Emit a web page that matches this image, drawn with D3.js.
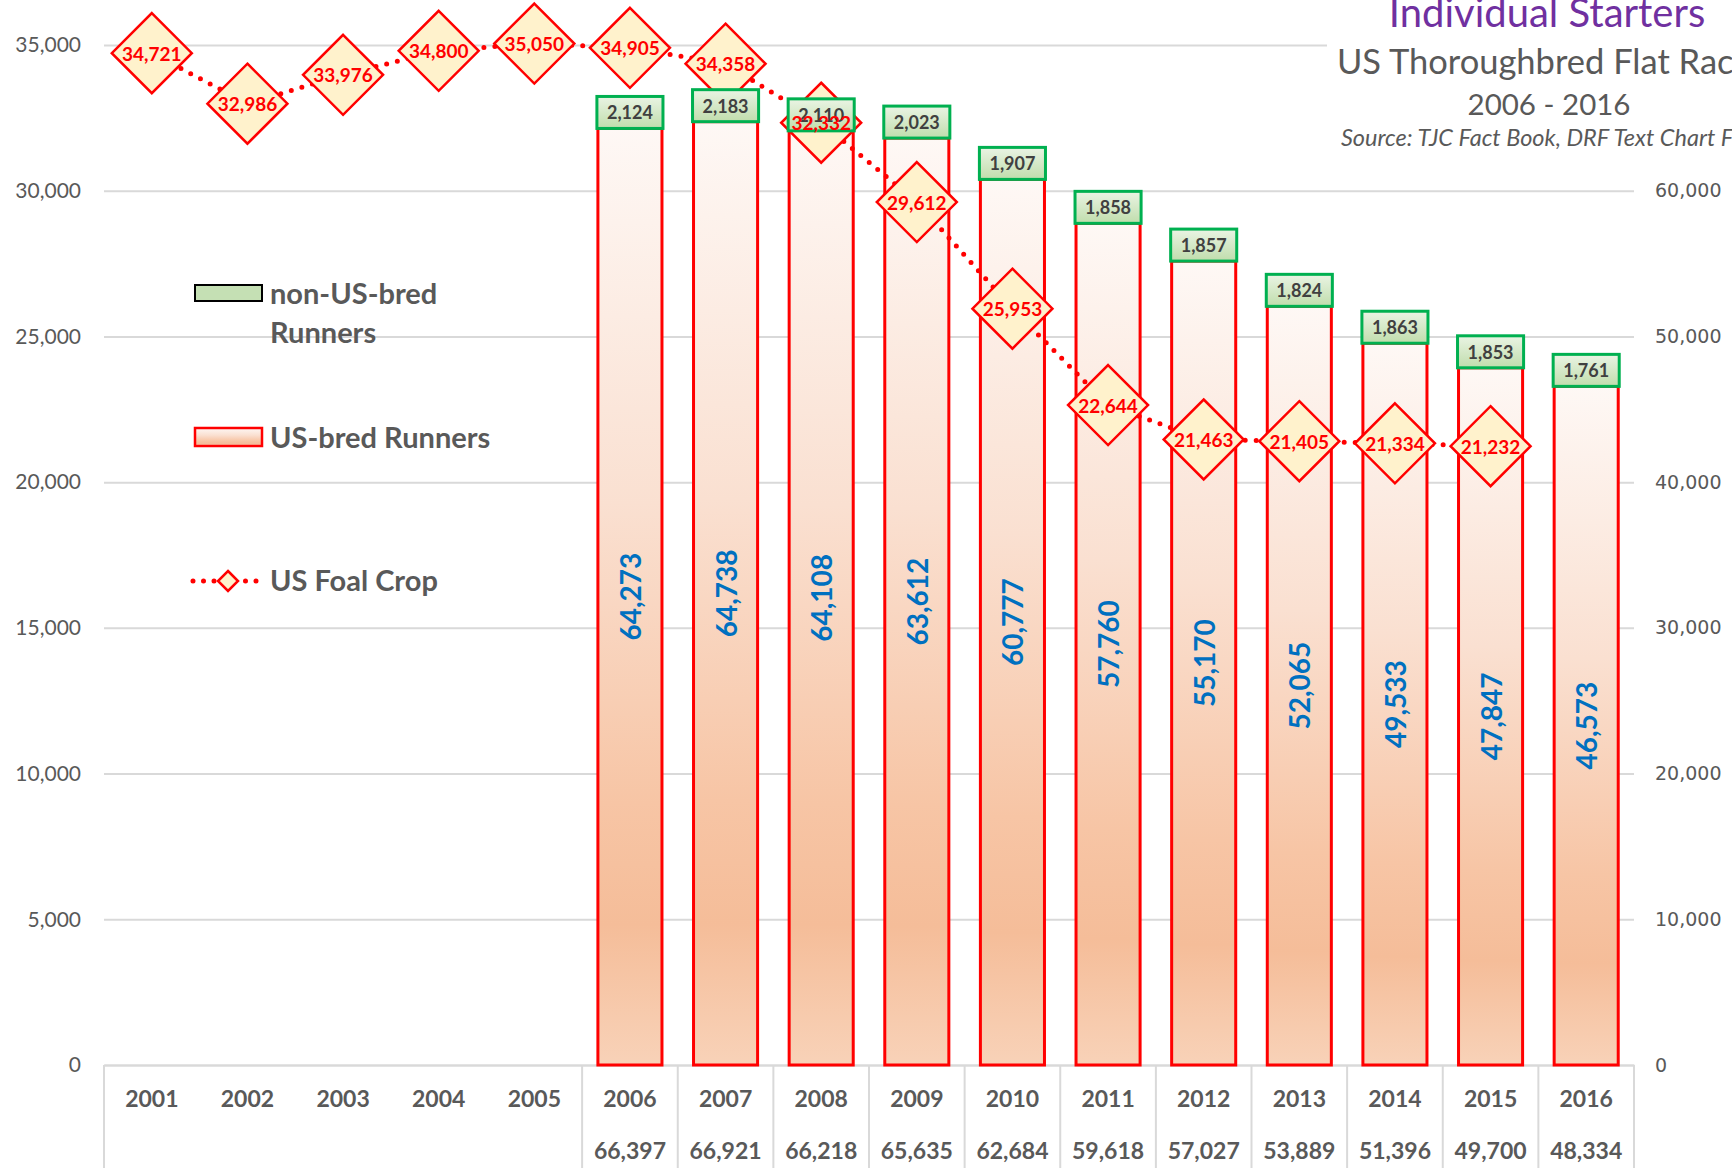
<!DOCTYPE html>
<html>
<head>
<meta charset="utf-8">
<script src="https://cdn.jsdelivr.net/npm/d3@7"></script>
<style>
    body { margin: 0; background: #fff; }
    svg { display: block; font-family: Lato, "Open Sans", sans-serif; }
</style>
</head>
<body>
<svg id="mainFrame"></svg>
<script>
// data
const years = ['2001', '2002', '2003', '2004', '2005', '2006', '2007', '2008',
    '2009', '2010', '2011', '2012', '2013', '2014', '2015', '2016']
const foalCrop = [34721, 32986, 33976, 34800, 35050, 34905, 34358, 32332,
    29612, 25953, 22644, 21463, 21405, 21334, 21232, null]
const usBred = [null, null, null, null, null, 64273, 64738, 64108,
    63612, 60777, 57760, 55170, 52065, 49533, 47847, 46573]
const nonUsBred = [null, null, null, null, null, 2124, 2183, 2110,
    2023, 1907, 1858, 1857, 1824, 1863, 1853, 1761]
const totalLabels = ['', '', '', '', '', '66,397', '66,921', '66,218',
    '65,635', '62,684', '59,618', '57,027', '53,889', '51,396', '49,700', '48,334']
const leftTicks = [0, 5000, 10000, 15000, 20000, 25000, 30000, 35000]
const rightTicks = [0, 10000, 20000, 30000, 40000, 50000, 60000, 70000]

const width = 1732
const height = 1168
const grey = '#595959'
const gridColor = '#D9D9D9'

const svg = d3.select('#mainFrame')
    .attr('width', width)
    .attr('height', height)

const plot = { left: 104, right: 1634, top: 45, bottom: 1065 }

const defs = svg.append('defs')

const barGrad = defs.append('linearGradient')
    .attr('id', 'barGrad')
    .attr('x1', 0).attr('y1', 0).attr('x2', 0).attr('y2', 1)
;[[0, '#FEF8F5'], [0.4, '#FAE0D1'], [0.72, '#F7C5A5'], [0.85, '#F5BD99'], [1, '#F8D2B8']]
    .forEach(([o, c]) => barGrad.append('stop').attr('offset', o).attr('stop-color', c))

const boxGrad = defs.append('linearGradient')
    .attr('id', 'boxGrad')
    .attr('x1', 0).attr('y1', 0).attr('x2', 0).attr('y2', 1)
;[[0, '#EAF4E4'], [1, '#C0DDAC']]
    .forEach(([o, c]) => boxGrad.append('stop').attr('offset', o).attr('stop-color', c))

// scales
const xScale = d3.scaleBand()
    .domain(years)
    .range([plot.left, plot.right])
    .paddingInner(0.33)
    .paddingOuter(0.165)

const xCenter = d => xScale(d) + xScale.bandwidth() / 2

const yLeft = d3.scaleLinear()
    .domain([0, 35000])
    .range([plot.bottom, plot.top])

const yRight = d3.scaleLinear()
    .domain([0, 70000])
    .range([plot.bottom, plot.top])

// left axis with gridlines
const yAxisLeft = d3.axisLeft(yLeft)
    .tickValues(leftTicks)
    .tickFormat(d3.format(','))
    .tickSize(-(plot.right - plot.left))
    .tickPadding(23)

const leftG = svg.append('g')
    .attr('transform', `translate(${plot.left},0)`)
    .call(yAxisLeft)
leftG.select('.domain').remove()
leftG.selectAll('line').attr('stroke', gridColor).attr('stroke-width', 2)
leftG.selectAll('text')
    .attr('fill', grey)
    .style('font-size', '21px')
    .style('font-family', 'Lato, sans-serif')

// right axis
const yAxisRight = d3.axisRight(yRight)
    .tickValues(rightTicks)
    .tickFormat(d3.format(','))
    .tickSize(0)
    .tickPadding(21)

const rightG = svg.append('g')
    .attr('transform', `translate(${plot.right},0)`)
    .call(yAxisRight)
rightG.select('.domain').remove()
rightG.selectAll('text')
    .attr('fill', grey)
    .style('font-size', '19px')
    .style('font-family', '"DejaVu Sans", sans-serif')

// category axis
const xAxis = d3.axisBottom(xScale)
    .tickSize(0)
    .tickPadding(26)

const xG = svg.append('g')
    .attr('transform', `translate(0,${plot.bottom})`)
    .call(xAxis)
xG.select('.domain')
    .attr('stroke', gridColor)
    .attr('stroke-width', 2)
xG.selectAll('text')
    .attr('fill', grey)
    .style('font-size', '23px')
    .style('font-weight', 'bold')
    .style('font-family', 'Lato, sans-serif')

const step = xScale.step()
const separators = [plot.left].concat(
    years.filter((d, i) => usBred[i] != null).map(d => xScale(d) - step * xScale.paddingInner() / 2),
    [plot.right])

svg.append('g').selectAll('line')
    .data(separators)
    .join('line')
    .attr('x1', d => d).attr('x2', d => d)
    .attr('y1', plot.bottom).attr('y2', height)
    .attr('stroke', gridColor)
    .attr('stroke-width', 2)

svg.append('g').selectAll('text')
    .data(years)
    .join('text')
    .attr('x', d => xCenter(d))
    .attr('y', 1159)
    .attr('text-anchor', 'middle')
    .attr('fill', grey)
    .style('font-size', '23px')
    .style('font-weight', 'bold')
    .text((d, i) => totalLabels[i])

// US-bred bars
const barData = years.map((year, i) => ({ year, us: usBred[i], non: nonUsBred[i] }))
    .filter(d => d.us != null)

const bars = svg.append('g')
bars.selectAll('rect')
    .data(barData)
    .join('rect')
    .attr('x', d => xScale(d.year))
    .attr('width', xScale.bandwidth())
    .attr('y', d => yRight(d.us))
    .attr('height', d => plot.bottom - yRight(d.us))
    .attr('fill', 'url(#barGrad)')
    .attr('stroke', '#FF0000')
    .attr('stroke-width', 3)

bars.selectAll('text')
    .data(barData)
    .join('text')
    .attr('transform', d => `translate(${xCenter(d.year)},${(yRight(d.us) + plot.bottom) / 2}) rotate(-90)`)
    .attr('text-anchor', 'middle')
    .attr('dominant-baseline', 'central')
    .attr('fill', '#0070C0')
    .style('font-size', '28px')
    .style('font-weight', 'bold')
    .text(d => d3.format(',')(d.us))

// foal crop line + diamonds
const foalData = years.map((year, i) => ({ year, v: foalCrop[i] }))

const line = d3.line()
    .defined(d => d.v != null)
    .x(d => xCenter(d.year))
    .y(d => yLeft(d.v))

svg.append('path')
    .attr('d', line(foalData))
    .attr('fill', 'none')
    .attr('stroke', '#FF0000')
    .attr('stroke-width', 5)
    .attr('stroke-linecap', 'round')
    .attr('stroke-dasharray', '0 11')

const diamond = r => `M0,${-r}L${r},0L0,${r}L${-r},0Z`

const foalPts = foalData.filter(d => d.v != null)

svg.append('g').selectAll('path')
    .data(foalPts)
    .join('path')
    .attr('transform', d => `translate(${xCenter(d.year)},${yLeft(d.v)})`)
    .attr('d', diamond(40))
    .attr('fill', '#FFF2CC')
    .attr('stroke', '#FF0000')
    .attr('stroke-width', 2.5)

// non-US-bred label boxes sit on top of each bar
const boxH = 32
const boxes = svg.append('g')
boxes.selectAll('rect')
    .data(barData)
    .join('rect')
    .attr('x', d => xScale(d.year) - 1)
    .attr('width', xScale.bandwidth() + 2)
    .attr('y', d => yRight(d.us) - boxH)
    .attr('height', boxH)
    .attr('fill', 'url(#boxGrad)')
    .attr('stroke', '#00B050')
    .attr('stroke-width', 3)

boxes.selectAll('text')
    .data(barData)
    .join('text')
    .attr('x', d => xCenter(d.year))
    .attr('y', d => yRight(d.us) - boxH / 2)
    .attr('text-anchor', 'middle')
    .attr('dominant-baseline', 'central')
    .attr('fill', '#404040')
    .style('font-size', '18px')
    .style('font-weight', 'bold')
    .text(d => d3.format(',')(d.non))

svg.append('g').selectAll('text')
    .data(foalPts)
    .join('text')
    .attr('x', d => xCenter(d.year))
    .attr('y', d => yLeft(d.v))
    .attr('text-anchor', 'middle')
    .attr('dominant-baseline', 'central')
    .attr('fill', '#FF0000')
    .style('font-size', '19px')
    .style('font-weight', 'bold')
    .text(d => d3.format(',')(d.v))

// title block
const titleG = svg.append('g')
titleG.append('rect')
    .attr('x', 1327).attr('y', 0)
    .attr('width', width - 1327).attr('height', 160)
    .attr('fill', '#fff')
titleG.append('text')
    .attr('x', 1547).attr('y', 27)
    .attr('text-anchor', 'middle')
    .attr('fill', '#7030A0')
    .style('font-size', '40px')
    .text('Individual Starters')
titleG.append('text')
    .attr('x', 1337).attr('y', 74)
    .attr('fill', grey)
    .style('font-size', '34.5px')
    .text('US Thoroughbred Flat Racing')
titleG.append('text')
    .attr('x', 1549).attr('y', 115)
    .attr('text-anchor', 'middle')
    .attr('fill', grey)
    .style('font-size', '29.5px')
    .text('2006 - 2016')
titleG.append('text')
    .attr('x', 1341).attr('y', 146)
    .attr('fill', grey)
    .style('font-size', '23.5px')
    .style('font-style', 'italic')
    .text('Source: TJC Fact Book, DRF Text Chart Files')

// legend
const legend = svg.append('g')
    .style('font-size', '29px')
    .style('font-weight', 'bold')
    .attr('fill', grey)

legend.append('rect')
    .attr('x', 195).attr('y', 285).attr('width', 67).attr('height', 16)
    .attr('fill', '#C5E0B4').attr('stroke', '#000').attr('stroke-width', 2)
legend.append('text').attr('x', 270).attr('y', 304).text('non-US-bred')
legend.append('text').attr('x', 270).attr('y', 343).text('Runners')

legend.append('rect')
    .attr('x', 195).attr('y', 428).attr('width', 67).attr('height', 18)
    .attr('fill', 'url(#barGrad)').attr('stroke', '#FF0000').attr('stroke-width', 2.5)
legend.append('text').attr('x', 270).attr('y', 448).text('US-bred Runners')

legend.append('line')
    .attr('x1', 193).attr('x2', 257).attr('y1', 581).attr('y2', 581)
    .attr('stroke', '#FF0000').attr('stroke-width', 5)
    .attr('stroke-linecap', 'round').attr('stroke-dasharray', '0 10.5')
legend.append('path')
    .attr('transform', 'translate(228,581)')
    .attr('d', diamond(10))
    .attr('fill', '#FFF2CC').attr('stroke', '#FF0000').attr('stroke-width', 2.5)
legend.append('text').attr('x', 270).attr('y', 591).text('US Foal Crop')
</script>
</body>
</html>
